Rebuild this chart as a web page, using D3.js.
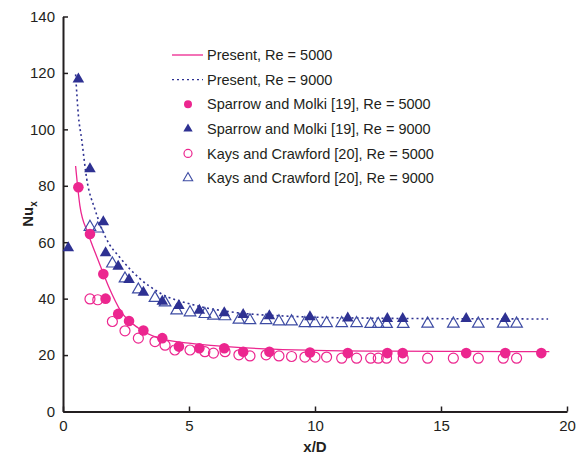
<!DOCTYPE html>
<html>
<head>
<meta charset="utf-8">
<script src="https://cdn.jsdelivr.net/npm/d3@7"></script>
<style>
  body { margin: 0; background: #fff; }
  text { font-family: Arial, "Liberation Sans", sans-serif; fill: #231f20; }
</style>
</head>
<body>
<svg id="chart" width="587" height="458"></svg>
<script>
// Present (CFD) curves, sampled from the figure
const present5000 = [
  [0.5, 87], [0.67, 73], [1.0, 63], [1.4, 53.5], [1.8, 44.5], [2.3, 35.5],
  [3.0, 29.5], [3.8, 26], [5, 24.2], [6.5, 23], [8, 22.2], [10, 21.7],
  [13, 21.4], [16, 21.3], [19.3, 21.2]
]
const present9000 = [
  [0.5, 119.5], [0.61, 105], [0.74, 96.5], [0.94, 82.5], [1.27, 71.6],
  [1.67, 62.1], [2.33, 53.8], [3.0, 47.5], [3.85, 42], [5.17, 37.8],
  [6.5, 35.5], [9.14, 33.7], [12, 33.1], [15, 32.9], [19.25, 32.8]
]

// Sparrow and Molki [19]
const sparrow5000 = [
  [0.61, 79.5], [1.07, 62.9], [1.6, 48.7], [1.69, 40.0], [2.19, 34.6],
  [2.62, 32.1], [3.19, 28.7], [3.94, 26.0], [4.6, 23.0], [5.41, 22.4],
  [6.4, 22.4], [7.15, 21.2], [8.19, 21.2], [9.8, 20.9], [11.3, 20.7],
  [12.87, 20.7], [13.48, 20.7], [16.0, 20.7], [17.55, 20.7], [18.98, 20.7]
]
const sparrow9000 = [
  [0.21, 58], [0.61, 117.8], [1.07, 86.0], [1.6, 67.2], [1.69, 56.2],
  [2.19, 51.4], [2.62, 46.7], [3.19, 42.2], [3.94, 39.0], [4.6, 37.5],
  [5.41, 35.8], [6.4, 34.9], [7.15, 34.3], [8.19, 33.9], [9.8, 33.5],
  [11.3, 33.1], [12.87, 32.9], [13.48, 32.9], [16.0, 32.9], [17.55, 32.9]
]

// Kays and Crawford [20]
const kays5000 = [
  [1.07, 39.9], [1.38, 39.6], [1.96, 31.9], [2.46, 28.6], [2.99, 26.0],
  [3.65, 24.8], [4.05, 23.5], [4.44, 21.8], [5.04, 21.8], [5.63, 21.2],
  [5.97, 20.7], [6.43, 21.2], [6.98, 20.1], [7.42, 19.7], [8.06, 20.1],
  [8.57, 19.7], [9.07, 19.5], [9.6, 19.3], [10.0, 19.3], [10.46, 19.3],
  [11.06, 18.9], [11.65, 18.9], [12.21, 18.9], [12.51, 18.9], [12.84, 18.9],
  [13.5, 18.9], [14.47, 18.9], [15.49, 18.9], [16.48, 18.9], [17.47, 18.9],
  [18.0, 18.9]
]
const kays9000 = [
  [1.07, 65.4], [1.38, 64.8], [1.96, 52.4], [2.46, 47.1], [2.99, 43.2],
  [3.65, 40.2], [4.05, 38.6], [4.51, 35.8], [5.04, 35.1], [5.63, 34.5],
  [5.97, 33.9], [6.43, 33.7], [6.98, 32.5], [7.42, 32.3], [8.06, 32.3],
  [8.57, 31.9], [9.07, 31.9], [9.6, 31.3], [10.0, 31.3], [10.46, 31.3],
  [11.06, 31.3], [11.65, 31.3], [12.21, 31.0], [12.51, 31.0], [12.84, 31.0],
  [13.5, 31.0], [14.47, 31.1], [15.49, 31.1], [16.48, 31.1], [17.47, 31.1],
  [18.0, 31.1]
]

const xTicks = [0, 5, 10, 15, 20]
const yTicks = [0, 20, 40, 60, 80, 100, 120, 140]
const legendLabels = [
  'Present, Re = 5000',
  'Present, Re = 9000',
  'Sparrow and Molki [19], Re = 5000',
  'Sparrow and Molki [19], Re = 9000',
  'Kays and Crawford [20], Re = 5000',
  'Kays and Crawford [20], Re = 9000'
]

const PINK = '#ec268f'
const BLUE = '#2e3192'
const BLUE_LIGHT = '#3d4ba3'

const margin = { top: 16.5, right: 20, bottom: 46.5, left: 63 }
const W = 587, H = 458

const svg = d3.select('#chart')

const x = d3.scaleLinear().domain([0, 20]).range([margin.left, W - margin.right])
const y = d3.scaleLinear().domain([0, 140]).range([H - margin.bottom, margin.top])

// axes
const xAxis = svg.append('g')
  .attr('transform', `translate(0,${y(0)})`)
  .call(d3.axisBottom(x).tickValues(xTicks).tickSizeInner(-5).tickSizeOuter(0).tickPadding(9))
const yAxis = svg.append('g')
  .attr('transform', `translate(${x(0)},0)`)
  .call(d3.axisLeft(y).tickValues(yTicks).tickSizeInner(-5).tickSizeOuter(0).tickPadding(8))

for (const ax of [xAxis, yAxis]) {
  ax.select('.domain').attr('stroke', '#231f20').attr('stroke-width', 2)
  ax.selectAll('.tick line').attr('stroke', '#231f20').attr('stroke-width', 1.5)
  ax.selectAll('.tick text').style('font-size', '15px').attr('fill', '#231f20')
}

// axis titles
svg.append('text')
  .attr('x', (x(0) + x(20)) / 2)
  .attr('y', 452)
  .attr('text-anchor', 'middle')
  .style('font-size', '15px')
  .style('font-weight', 'bold')
  .text('x/D')

const yTitle = svg.append('text')
  .attr('transform', `translate(33,${(y(0) + y(140)) / 2}) rotate(-90)`)
  .attr('text-anchor', 'middle')
  .style('font-size', '15px')
  .style('font-weight', 'bold')
yTitle.append('tspan').text('Nu')
yTitle.append('tspan').attr('font-size', '10px').attr('dy', 4).text('x')

// curves
const line = d3.line().x(d => x(d[0])).y(d => y(d[1])).curve(d3.curveMonotoneX)

svg.append('path')
  .datum(present5000)
  .attr('d', line)
  .attr('fill', 'none')
  .attr('stroke', PINK)
  .attr('stroke-width', 1.3)

svg.append('path')
  .datum(present9000)
  .attr('d', line)
  .attr('fill', 'none')
  .attr('stroke', BLUE)
  .attr('stroke-width', 1.6)
  .attr('stroke-dasharray', '2,3')

const tri = d3.symbol().type(d3.symbolTriangle).size(58)

// open markers
svg.append('g').selectAll('circle')
  .data(kays5000)
  .enter()
  .append('circle')
  .attr('cx', d => x(d[0]))
  .attr('cy', d => y(d[1]))
  .attr('r', 5)
  .attr('fill', 'none')
  .attr('stroke', PINK)
  .attr('stroke-width', 1.2)

svg.append('g').selectAll('path')
  .data(kays9000)
  .enter()
  .append('path')
  .attr('d', tri)
  .attr('transform', d => `translate(${x(d[0])},${y(d[1])})`)
  .attr('fill', 'none')
  .attr('stroke', BLUE_LIGHT)
  .attr('stroke-width', 1.2)

// filled markers
svg.append('g').selectAll('circle')
  .data(sparrow5000)
  .enter()
  .append('circle')
  .attr('cx', d => x(d[0]))
  .attr('cy', d => y(d[1]))
  .attr('r', 5.3)
  .attr('fill', PINK)

svg.append('g').selectAll('path')
  .data(sparrow9000)
  .enter()
  .append('path')
  .attr('d', tri)
  .attr('transform', d => `translate(${x(d[0])},${y(d[1])})`)
  .attr('fill', BLUE)

// legend
const legend = svg.append('g')
const rowY = i => 55 + i * 24.6
const legTri = d3.symbol().type(d3.symbolTriangle).size(38)

legend.append('line')
  .attr('x1', 172).attr('x2', 203).attr('y1', rowY(0)).attr('y2', rowY(0))
  .attr('stroke', PINK).attr('stroke-width', 1.3)
legend.append('line')
  .attr('x1', 172).attr('x2', 203).attr('y1', rowY(1)).attr('y2', rowY(1))
  .attr('stroke', BLUE).attr('stroke-width', 1.4).attr('stroke-dasharray', '2,3')
legend.append('circle')
  .attr('cx', 188).attr('cy', rowY(2)).attr('r', 4).attr('fill', PINK)
legend.append('path')
  .attr('d', legTri).attr('transform', `translate(188,${rowY(3)})`).attr('fill', BLUE)
legend.append('circle')
  .attr('cx', 188).attr('cy', rowY(4)).attr('r', 4)
  .attr('fill', 'none').attr('stroke', PINK).attr('stroke-width', 1.2)
legend.append('path')
  .attr('d', legTri).attr('transform', `translate(188,${rowY(5)})`)
  .attr('fill', 'none').attr('stroke', BLUE_LIGHT).attr('stroke-width', 1.1)

legend.selectAll('text')
  .data(legendLabels)
  .enter()
  .append('text')
  .attr('x', 207)
  .attr('y', (d, i) => rowY(i))
  .attr('dy', '0.36em')
  .style('font-size', '14.5px')
  .text(d => d)
</script>
</body>
</html>
